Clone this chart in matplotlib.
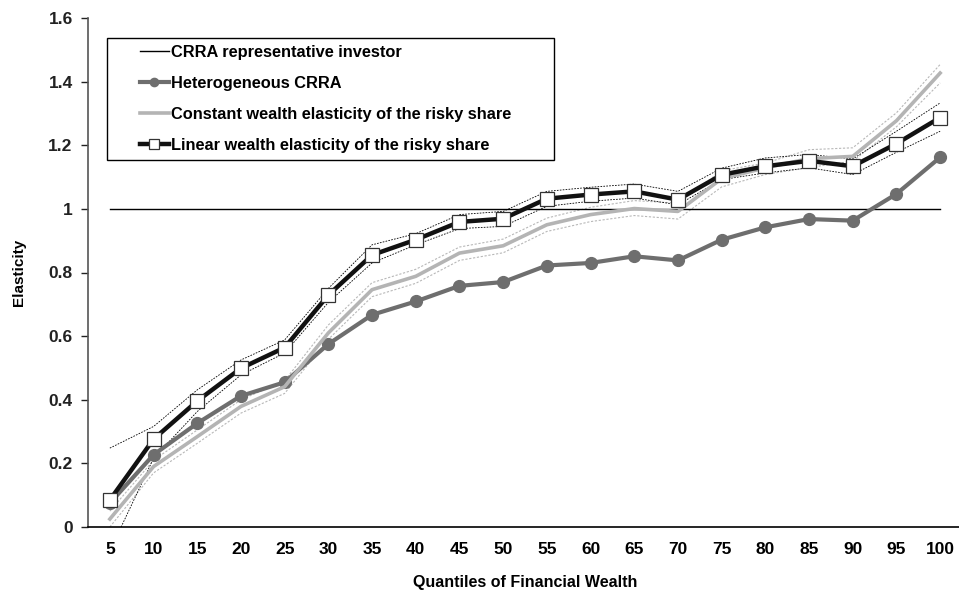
import numpy as np
import matplotlib.pyplot as plt
from matplotlib.patches import Rectangle

plt.rcParams['font.family'] = ['Liberation Sans', 'DejaVu Sans']
plt.rcParams['font.weight'] = 'bold'

quantiles = [5, 10, 15, 20, 25, 30, 35, 40, 45, 50, 55, 60, 65, 70, 75, 80, 85, 90, 95, 100]
crra_rep = [1.0] * 20
hetero = [0.075, 0.227, 0.326, 0.412, 0.455, 0.575, 0.667, 0.709, 0.758, 0.770,
          0.822, 0.830, 0.851, 0.838, 0.903, 0.942, 0.968, 0.963, 1.047, 1.162]
const_el = [0.025, 0.190, 0.284, 0.379, 0.441, 0.610, 0.746, 0.788, 0.861, 0.884,
            0.950, 0.982, 1.001, 0.992, 1.095, 1.129, 1.158, 1.165, 1.277, 1.427]
const_hi = [0.050, 0.210, 0.305, 0.400, 0.460, 0.635, 0.768, 0.810, 0.880, 0.905,
            0.971, 1.005, 1.026, 1.018, 1.120, 1.144, 1.186, 1.192, 1.302, 1.454]
const_lo = [0.000, 0.170, 0.263, 0.358, 0.420, 0.590, 0.724, 0.766, 0.838, 0.862,
            0.929, 0.960, 0.979, 0.968, 1.069, 1.108, 1.130, 1.150, 1.258, 1.396]
linear_el = [0.085, 0.276, 0.396, 0.499, 0.564, 0.729, 0.855, 0.903, 0.959, 0.969,
             1.032, 1.045, 1.055, 1.029, 1.107, 1.134, 1.151, 1.134, 1.205, 1.287]
linear_hi = [0.248, 0.316, 0.431, 0.525, 0.588, 0.750, 0.887, 0.922, 0.982, 0.992,
             1.055, 1.068, 1.078, 1.055, 1.128, 1.160, 1.171, 1.157, 1.244, 1.333]
linear_lo = [-0.075, 0.216, 0.363, 0.478, 0.547, 0.706, 0.830, 0.887, 0.938, 0.945,
             1.008, 1.024, 1.034, 1.013, 1.092, 1.113, 1.129, 1.108, 1.178, 1.244]
yticks = [0, 0.2, 0.4, 0.6, 0.8, 1, 1.2, 1.4, 1.6]
ytick_labels = ['0', '0.2', '0.4', '0.6', '0.8', '1', '1.2', '1.4', '1.6']

x = np.arange(len(quantiles))
W, H = 959, 593

fig = plt.figure(figsize=(W / 100, H / 100), dpi=100)
ax = fig.add_axes([88 / W, 66 / H, 874 / W, 509 / H])

# confidence bands
ax.plot(x, const_hi, color='#b8b8b8', lw=0.8, ls=(0, (2, 1.5)), zorder=2)
ax.plot(x, const_lo, color='#b8b8b8', lw=0.8, ls=(0, (2, 1.5)), zorder=2)
ax.plot(x, linear_hi, color='black', lw=0.6, ls=(0, (2, 1.5)), zorder=2)
ax.plot(x, linear_lo, color='black', lw=0.6, ls=(0, (2, 1.5)), zorder=2)

ax.plot(x, crra_rep, color='black', lw=1.0, zorder=3,
        label='CRRA representative investor')
ax.plot(x, hetero, color='#6e6e6e', lw=3.0, marker='o', ms=8.5,
        mfc='#6e6e6e', mec='#6e6e6e', zorder=4, label='Heterogeneous CRRA')
ax.plot(x, const_el, color='#b4b4b4', lw=2.6, zorder=5,
        label='Constant wealth elasticity of the risky share')
ax.plot(x, linear_el, color='#111111', lw=3.2, marker='s', ms=10,
        mfc='white', mec='#333333', mew=0.9, zorder=6,
        label='Linear wealth elasticity of the risky share')

ax.set_xlim(-0.5, 19.5)
ax.set_ylim(0, 1.6)
ax.set_xticks(x)
ax.set_xticklabels([str(q) for q in quantiles], fontsize=12.5, fontweight='bold')
ax.set_yticks(yticks)
ax.set_yticklabels(ytick_labels, fontsize=12.5, fontweight='bold')
ax.tick_params(axis='x', length=0, pad=11)
ax.tick_params(axis='y', length=5, width=1, direction='out', pad=6, colors='#222222')

for side in ['top', 'right']:
    ax.spines[side].set_visible(False)
ax.spines['left'].set_color('#555555')
ax.spines['left'].set_linewidth(1.2)
ax.spines['bottom'].set_linewidth(1.2)

ax.set_xlabel('Quantiles of Financial Wealth', fontsize=11.5, fontweight='bold', labelpad=13)
ax.set_ylabel('Elasticity', fontsize=11, fontweight='bold', labelpad=16)

# legend with a plain black box around it
leg = ax.legend(loc='upper left', bbox_to_anchor=(140 / W, 1 - 45 / H),
                bbox_transform=fig.transFigure, fontsize=11.8, frameon=False,
                handlelength=1.75, handletextpad=0.12, labelspacing=0.98,
                borderpad=0, borderaxespad=0, markerscale=0.7)
for t in leg.get_texts():
    t.set_fontweight('bold')
fig.add_artist(Rectangle((107 / W, 1 - 160 / H), 447 / W, 122 / H,
                         transform=fig.transFigure, fill=False,
                         edgecolor='black', linewidth=1.0, zorder=10))
leg.set_zorder(11)

fig.savefig('out.png', dpi=100)
